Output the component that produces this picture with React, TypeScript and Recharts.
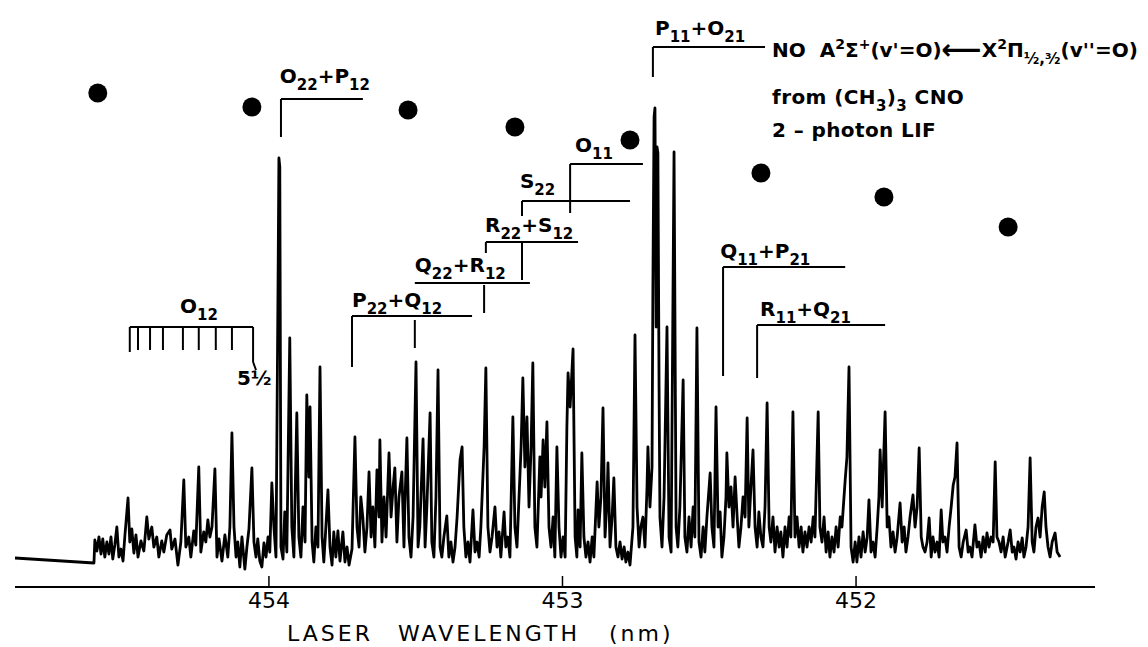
import React from "react";
import {
  ComposedChart,
  Line,
  Scatter,
  XAxis,
  YAxis,
  ReferenceLine,
  ReferenceDot,
  Label,
} from "recharts";

// 2-photon LIF scan of NO from (CH3)3CNO, wavelength (nm) vs. signal (arb.)
const scanLeft = [
  [454.865, 29], [454.596, 24], [454.593, 47], [454.586, 36], [454.579, 50], [454.572, 33], [454.566, 48], [454.559, 30],
  [454.552, 45], [454.545, 33], [454.538, 50], [454.532, 28], [454.525, 42], [454.518, 60], [454.511, 30], [454.504, 38],
  [454.497, 26], [454.491, 50], [454.480, 89], [454.474, 45], [454.467, 58], [454.460, 34], [454.453, 52], [454.446, 30],
  [454.436, 46], [454.426, 36], [454.416, 70], [454.409, 48], [454.399, 60], [454.392, 40], [454.382, 50], [454.375, 30],
  [454.365, 46], [454.358, 35], [454.348, 52], [454.337, 57], [454.331, 38], [454.320, 48], [454.310, 22], [454.300, 45],
  [454.290, 107], [454.283, 40], [454.273, 50], [454.266, 30], [454.256, 56], [454.249, 42], [454.239, 120], [454.232, 35],
  [454.222, 55], [454.215, 45], [454.208, 67], [454.201, 50], [454.194, 60], [454.184, 118], [454.177, 30], [454.170, 48],
  [454.160, 26], [454.150, 52], [454.140, 30], [454.133, 60], [454.126, 154], [454.119, 60], [454.112, 30], [454.106, 45],
  [454.099, 20], [454.092, 50], [454.082, 18], [454.075, 40], [454.068, 58], [454.058, 119], [454.051, 45], [454.044, 30],
  [454.038, 48], [454.031, 26], [454.024, 20], [454.017, 44], [454.010, 30], [454.003, 50], [453.997, 35], [453.990, 104],
  [453.983, 60], [453.976, 30],
];

const scanO22 = [
  [453.969, 300], [453.966, 429], [453.963, 420], [453.959, 40], [453.952, 28], [453.946, 75], [453.939, 35], [453.929, 249],
  [453.922, 60], [453.915, 30], [453.905, 174], [453.898, 50], [453.891, 30], [453.884, 80], [453.877, 45], [453.871, 192],
  [453.864, 110], [453.860, 180], [453.853, 45], [453.847, 25], [453.840, 60], [453.833, 40], [453.826, 220], [453.819, 50],
  [453.813, 25], [453.806, 60], [453.799, 97], [453.792, 40], [453.785, 22], [453.779, 55], [453.772, 30], [453.765, 56],
  [453.758, 26], [453.748, 55], [453.741, 25], [453.734, 40], [453.727, 22], [453.717, 38], [453.707, 150], [453.700, 60],
  [453.693, 40], [453.687, 90], [453.680, 69], [453.673, 35], [453.666, 60], [453.659, 115], [453.652, 50], [453.646, 80],
  [453.639, 40], [453.632, 117], [453.625, 70], [453.622, 147], [453.615, 45], [453.608, 90], [453.601, 50], [453.591, 134],
  [453.584, 70], [453.577, 100], [453.571, 119], [453.564, 45], [453.557, 90], [453.547, 115], [453.540, 40], [453.537, 80],
  [453.530, 149], [453.523, 50], [453.516, 30], [453.509, 70], [453.499, 225], [453.492, 40], [453.486, 60], [453.475, 148],
  [453.468, 40], [453.462, 80], [453.451, 174], [453.445, 45], [453.438, 30], [453.431, 90], [453.424, 217], [453.417, 40],
  [453.411, 30], [453.404, 50], [453.394, 71], [453.387, 30], [453.380, 45], [453.373, 25], [453.366, 40], [453.359, 70],
  [453.349, 127], [453.342, 140], [453.336, 60], [453.329, 30],
];

const scanMid = [
  [453.322, 45], [453.315, 25], [453.305, 77], [453.298, 35], [453.291, 45], [453.284, 30], [453.278, 60], [453.267, 140],
  [453.261, 219], [453.254, 60], [453.247, 35], [453.240, 50], [453.230, 80], [453.223, 40], [453.216, 55], [453.210, 30],
  [453.199, 75], [453.193, 40], [453.186, 50], [453.179, 30], [453.169, 170], [453.162, 60], [453.155, 40], [453.148, 90],
  [453.141, 140], [453.135, 209], [453.128, 120], [453.121, 170], [453.114, 80], [453.107, 140], [453.101, 224], [453.094, 60],
  [453.087, 40], [453.077, 130], [453.073, 90], [453.066, 147], [453.060, 100], [453.053, 165], [453.046, 60], [453.039, 40],
  [453.032, 70], [453.026, 30], [453.019, 140], [453.012, 60], [453.005, 30], [452.998, 50], [452.991, 30], [452.985, 160],
  [452.981, 214], [452.974, 180], [452.964, 238], [452.957, 50], [452.951, 30], [452.947, 77], [452.940, 40], [452.934, 134],
  [452.927, 50], [452.920, 30], [452.913, 45], [452.906, 25], [452.899, 50], [452.893, 30], [452.882, 105], [452.876, 60],
  [452.869, 90], [452.862, 179], [452.855, 50], [452.848, 90], [452.845, 124], [452.838, 40], [452.831, 70], [452.825, 109],
  [452.818, 40], [452.811, 30], [452.804, 45], [452.797, 28], [452.790, 40], [452.784, 25], [452.777, 35], [452.770, 22],
  [452.760, 60], [452.753, 252], [452.746, 80], [452.739, 40], [452.733, 60], [452.726, 70], [452.719, 40], [452.712, 100],
  [452.709, 140], [452.702, 80], [452.695, 120], [452.692, 300], [452.688, 470], [452.685, 479], [452.681, 260], [452.678, 440],
  [452.675, 434], [452.671, 200], [452.668, 70],
];

const scanP11 = [
  [452.661, 40], [452.654, 90], [452.644, 260], [452.637, 50], [452.630, 35], [452.620, 435], [452.613, 60], [452.607, 40],
  [452.600, 80], [452.589, 207], [452.583, 50], [452.576, 35], [452.569, 70], [452.562, 40], [452.555, 80], [452.549, 50],
  [452.542, 259], [452.535, 45], [452.528, 30], [452.521, 60], [452.515, 35], [452.508, 70], [452.497, 114], [452.491, 60],
  [452.484, 40], [452.477, 180], [452.470, 60], [452.463, 75], [452.457, 30], [452.450, 50], [452.443, 90], [452.440, 134],
  [452.433, 80], [452.426, 100], [452.419, 60], [452.412, 110], [452.405, 70], [452.399, 40], [452.392, 60], [452.385, 90],
  [452.378, 70], [452.371, 169], [452.365, 60], [452.358, 100], [452.351, 137], [452.344, 60], [452.337, 40], [452.331, 75],
  [452.324, 50], [452.317, 40], [452.310, 80], [452.303, 184], [452.296, 60], [452.290, 45], [452.283, 70], [452.276, 35],
  [452.269, 60], [452.262, 40], [452.256, 55], [452.249, 30], [452.242, 60], [452.235, 40], [452.228, 70], [452.222, 50],
  [452.215, 175], [452.208, 50], [452.201, 70], [452.194, 40], [452.187, 60], [452.181, 35], [452.174, 55], [452.167, 40],
  [452.160, 60], [452.153, 45], [452.146, 70], [452.140, 50], [452.129, 175], [452.123, 60], [452.116, 45], [452.109, 70],
  [452.102, 35], [452.095, 55], [452.089, 30], [452.082, 50], [452.075, 35], [452.068, 60], [452.061, 40], [452.054, 70],
  [452.048, 60], [452.037, 107], [452.031, 130], [452.024, 220], [452.017, 40], [452.010, 25], [452.003, 45],
];

const scanRight = [
  [451.997, 25], [451.990, 50], [451.983, 30], [451.976, 55], [451.969, 35], [451.962, 50], [451.956, 87], [451.949, 35],
  [451.942, 45], [451.935, 30], [451.928, 60], [451.922, 90], [451.918, 137], [451.911, 80], [451.908, 110], [451.901, 175],
  [451.894, 60], [451.888, 70], [451.881, 40], [451.874, 55], [451.867, 35], [451.860, 50], [451.850, 84], [451.843, 45],
  [451.836, 60], [451.830, 35], [451.823, 50], [451.816, 70], [451.806, 92], [451.799, 60], [451.792, 80], [451.785, 139],
  [451.778, 50], [451.772, 40], [451.765, 35], [451.758, 45], [451.751, 69], [451.744, 30], [451.738, 50], [451.731, 35],
  [451.724, 45], [451.717, 30], [451.710, 77], [451.704, 45], [451.697, 50], [451.690, 35], [451.683, 60], [451.676, 80],
  [451.669, 102], [451.663, 110], [451.656, 144], [451.649, 40], [451.642, 30], [451.635, 45], [451.625, 57], [451.618, 35],
  [451.612, 40], [451.605, 30], [451.595, 62], [451.588, 40], [451.581, 45], [451.574, 30], [451.567, 50], [451.560, 35],
  [451.554, 54], [451.547, 40], [451.540, 50], [451.533, 45], [451.526, 125], [451.520, 50], [451.513, 45], [451.506, 35],
  [451.499, 50], [451.492, 30], [451.482, 45], [451.475, 57], [451.468, 35], [451.462, 40], [451.455, 28], [451.448, 45],
  [451.441, 35], [451.434, 49], [451.428, 30], [451.421, 40], [451.414, 60], [451.407, 129], [451.400, 45], [451.394, 35],
  [451.387, 60], [451.380, 69], [451.373, 50], [451.366, 80], [451.359, 95], [451.353, 60], [451.346, 40], [451.339, 30],
  [451.332, 45], [451.322, 54], [451.315, 35], [451.305, 30],
];

// large dots drawn above the scan
const markerDots = [
  [454.583, 494], [454.058, 480], [453.526, 477], [453.162, 460],
  [452.770, 447], [452.324, 414], [451.905, 390], [451.482, 360],
];

const tickValues = [452, 453, 454];

// branch brackets: head wavelength, end wavelength, bar level, drop of the head line
const branches = [
  { name: "O22+P12", head: 453.959, end: 453.68, level: 488, drop: 450 },
  { name: "P11+O21", head: 452.692, end: 452.31, level: 540, drop: 510 },
  { name: "P22+Q12", head: 453.717, end: 453.308, level: 271, drop: 220 },
  { name: "Q22+R12", head: 453.503, end: 453.111, level: 304, drop: 304 },
  { name: "R22+S12", head: 453.261, end: 452.947, level: 345, drop: 334 },
  { name: "S22", head: 453.138, end: 452.77, level: 386, drop: 371 },
  { name: "O11", head: 452.974, end: 452.726, level: 423, drop: 374 },
  { name: "Q11+P21", head: 452.453, end: 452.037, level: 320, drop: 211 },
  { name: "R11+Q21", head: 452.337, end: 451.901, level: 262, drop: 209 },
  { name: "O12", head: 454.474, end: 454.054, level: 260, drop: 235 },
];

// extra line markers [nm, top, bottom]
const branchTicks = [
  [453.503, 267, 239],
  [453.267, 302, 274],
  [453.138, 345, 307],
  [454.446, 260, 237], [454.405, 260, 237], [454.361, 260, 237], [454.293, 260, 237],
  [454.239, 260, 237], [454.181, 260, 237], [454.126, 260, 237],
  [454.054, 260, 225],
];

const labels = [
  { text: "O_{22}+P_{12}", nm: 453.963, at: 504 },
  { text: "P_{11}+O_{21}", nm: 452.685, at: 552 },
  { text: "P_{22}+Q_{12}", nm: 453.717, at: 280 },
  { text: "Q_{22}+R_{12}", nm: 453.503, at: 315 },
  { text: "R_{22}+S_{12}", nm: 453.264, at: 355 },
  { text: "S_{22}", nm: 453.145, at: 399 },
  { text: "O_{11}", nm: 452.957, at: 435 },
  { text: "Q_{11}+P_{21}", nm: 452.463, at: 329 },
  { text: "R_{11}+Q_{21}", nm: 452.327, at: 271 },
  { text: "O_{12}", nm: 454.303, at: 274 },
  { text: "5½", nm: 454.109, at: 202 },
];

const captionLines = [
  { text: "NO  A^{2}Σ^{+}(v'=O)~{⟵}X^{2}Π_{½,³⁄₂}(v''=O)", at: 530, spacing: 0 },
  { text: "from (CH_{3})_{3} CNO", at: 483, spacing: 0.4 },
  { text: "2 – photon LIF", at: 450, spacing: 0.4 },
];
const captionNm = 452.286;

const toPoints = (rows: number[][]) => rows.map(([nm, I]) => ({ nm, I }));
const scan = toPoints([...scanLeft, ...scanO22, ...scanMid, ...scanP11, ...scanRight]);
const dots = toPoints(markerDots);

const FONT = "DejaVu Sans";

// text with _{sub}, ^{sup} and ~{big} runs
function RichText({ x, y, text, size, spacing = 0 }: { x: number; y: number; text: string; size: number; spacing?: number }) {
  const parts = text.split(/(_\{[^}]*\}|\^\{[^}]*\}|~\{[^}]*\})/).filter(Boolean);
  let off = 0;
  return (
    <text
      x={x}
      y={y}
      fontFamily={FONT}
      fontWeight="bold"
      fontSize={size}
      fill="#000"
      letterSpacing={spacing}
      style={{ whiteSpace: "pre" }}
    >
      {parts.map((p, i) => {
        let target = 0;
        let fs = size;
        let content = p;
        if (p.startsWith("_{")) {
          target = size * 0.33;
          fs = size * 0.75;
          content = p.slice(2, -1);
        } else if (p.startsWith("^{")) {
          target = -size * 0.42;
          fs = size * 0.7;
          content = p.slice(2, -1);
        } else if (p.startsWith("~{")) {
          target = size * 0.12;
          fs = size * 1.4;
          content = p.slice(2, -1);
        }
        const dy = target - off;
        off = target;
        return (
          <tspan key={i} dy={dy} fontSize={fs}>
            {content}
          </tspan>
        );
      })}
    </text>
  );
}

export default function App() {
  return (
    <div style={{ position: "absolute", left: 0, top: 0, background: "#fff" }}>
      <ComposedChart width={1148} height={647} margin={{ top: 0, right: 53, bottom: 0, left: 15 }}>
        <XAxis
          dataKey="nm"
          type="number"
          domain={[451.186, 454.865]}
          reversed
          allowDataOverflow
          ticks={tickValues}
          height={60}
          tickLine={false}
          tickSize={0}
          tickMargin={4}
          axisLine={{ stroke: "#000", strokeWidth: 2.2 }}
          tick={(p: any) => (
            <text x={p.x} y={p.y} dy={17} textAnchor="middle" fontSize={22} fontFamily={FONT} fill="#000">
              {p.payload.value}
            </text>
          )}
          label={
            <Label
              content={({ viewBox }: any) => (
                <g fontFamily={FONT} fontSize={22} fill="#000" letterSpacing={3}>
                  <text x={viewBox.x + 272} y={viewBox.y + 54}>LASER</text>
                  <text x={viewBox.x + 383} y={viewBox.y + 54}>WAVELENGTH</text>
                  <text x={viewBox.x + 594} y={viewBox.y + 54}>(nm)</text>
                </g>
              )}
            />
          }
        />
        <YAxis dataKey="I" type="number" domain={[0, 587]} hide allowDataOverflow />

        {tickValues.map((t) => (
          <ReferenceLine
            key={`t${t}`}
            segment={[{ x: t, y: 0 }, { x: t, y: 11 }]}
            stroke="#000"
            strokeWidth={1.5}
            ifOverflow="visible"
          />
        ))}

        {branches.map((b) => (
          <ReferenceLine
            key={`h${b.name}`}
            segment={[{ x: b.head, y: b.level }, { x: b.end, y: b.level }]}
            stroke="#000"
            strokeWidth={2}
            ifOverflow="visible"
          />
        ))}
        {branches
          .filter((b) => b.drop !== b.level)
          .map((b) => (
            <ReferenceLine
              key={`v${b.name}`}
              segment={[{ x: b.head, y: b.level }, { x: b.head, y: b.drop }]}
              stroke="#000"
              strokeWidth={2}
              ifOverflow="visible"
            />
          ))}
        {branchTicks.map(([nm, top, bottom], i) => (
          <ReferenceLine
            key={`bt${i}`}
            segment={[{ x: nm, y: top }, { x: nm, y: bottom }]}
            stroke="#000"
            strokeWidth={2}
            ifOverflow="visible"
          />
        ))}
        <ReferenceLine
          segment={[{ x: 454.054, y: 225 }, { x: 454.044, y: 217 }]}
          stroke="#000"
          strokeWidth={2}
          ifOverflow="visible"
        />

        {labels.map((l) => (
          <ReferenceDot
            key={l.text}
            x={l.nm}
            y={l.at}
            r={1}
            ifOverflow="visible"
            shape={(p: any) => <RichText x={p.cx} y={p.cy} text={l.text} size={20} />}
          />
        ))}
        {captionLines.map((c) => (
          <ReferenceDot
            key={c.text}
            x={captionNm}
            y={c.at}
            r={1}
            ifOverflow="visible"
            shape={(p: any) => <RichText x={p.cx} y={p.cy} text={c.text} size={20} spacing={c.spacing} />}
          />
        ))}

        <Line
          data={scan}
          dataKey="I"
          type="linear"
          stroke="#000"
          strokeWidth={2.8}
          strokeLinejoin="round"
          dot={false}
          activeDot={false}
          isAnimationActive={false}
        />
        <Scatter
          data={dots}
          dataKey="I"
          fill="#000"
          isAnimationActive={false}
          shape={(p: any) => <circle cx={p.cx} cy={p.cy} r={9.5} fill="#000" />}
        />
      </ComposedChart>
    </div>
  );
}
